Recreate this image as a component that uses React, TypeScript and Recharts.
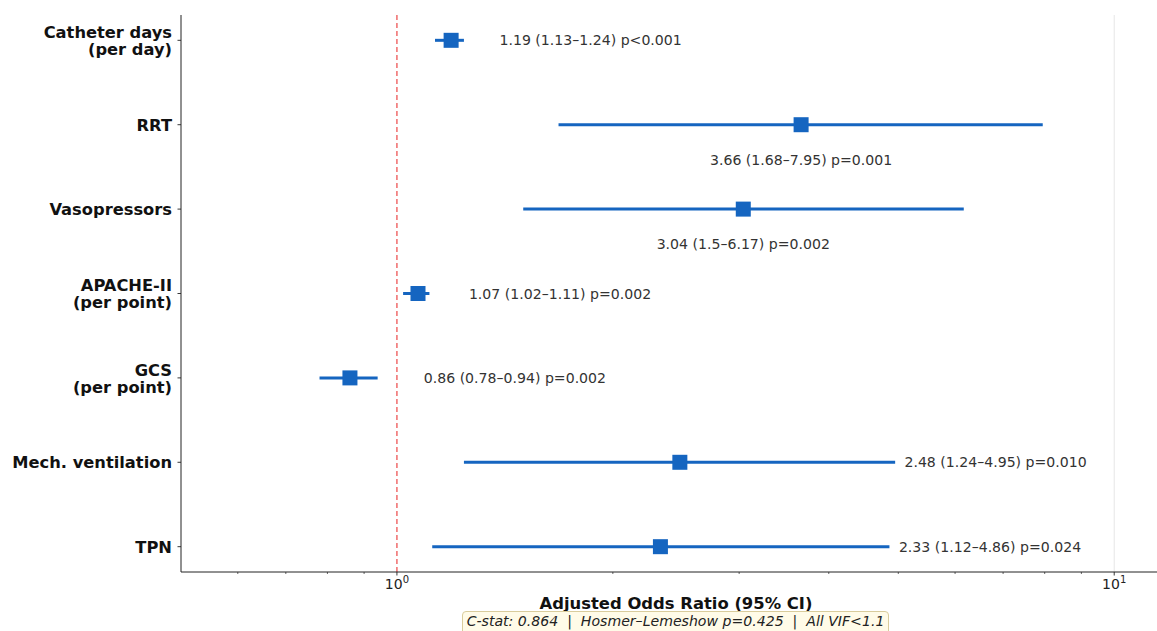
import React from "react";
import { ComposedChart, Scatter, ErrorBar, XAxis, YAxis, ReferenceLine } from "recharts";

// rows top to bottom
const labels = [
  "Catheter days\n(per day)",
  "RRT",
  "Vasopressors",
  "APACHE-II\n(per point)",
  "GCS\n(per point)",
  "Mech. ventilation",
  "TPN",
];
const oddsRatio = [1.19, 3.66, 3.04, 1.07, 0.86, 2.48, 2.33];
const ciLow = [1.13, 1.68, 1.5, 1.02, 0.78, 1.24, 1.12];
const ciHigh = [1.24, 7.95, 6.17, 1.11, 0.94, 4.95, 4.86];
const pValues = ["p<0.001", "p=0.001", "p=0.002", "p=0.002", "p=0.002", "p=0.010", "p=0.024"];
const xTicks = [0.6, 0.7, 0.8, 0.9, 1, 2, 3, 4, 5, 6, 7, 8, 9, 10];
const majorTicks = [1, 10];

const BLUE = "#1565C0";
const n = labels.length;

const points = labels.map((_, i) => ({
  x: oddsRatio[i],
  y: n - 1 - i,
  err: [oddsRatio[i] - ciLow[i], ciHigh[i] - oddsRatio[i]],
}));

// wide intervals get their text under the bar, the rest to the right of the CI
const textPoints = labels.map((_, i) => {
  const below = ciHigh[i] > 5.5;
  return {
    x: below ? oddsRatio[i] : ciHigh[i] + 0.15,
    y: n - 1 - i - (below ? 0.415 : 0),
    anchor: below ? "middle" : "start",
    text: `${oddsRatio[i]} (${ciLow[i]}–${ciHigh[i]}) ${pValues[i]}`,
  };
});

const XTick = (props: any) => {
  const { x, y, payload } = props;
  const major = majorTicks.includes(payload.value);
  return (
    <g>
      <line x1={x} x2={x} y1={y} y2={y + (major ? 3.5 : 2)} stroke="#222" strokeWidth={major ? 0.9 : 0.7} />
      {major && (
        <text x={x} y={y + 17} textAnchor="middle" fontSize={14} fill="#222">
          <tspan>10</tspan>
          <tspan dy={-6} fontSize={10}>
            {Math.round(Math.log10(payload.value))}
          </tspan>
        </text>
      )}
    </g>
  );
};

const YTick = (props: any) => {
  const { x, y, payload } = props;
  const lines = labels[n - 1 - payload.value].split("\n");
  const offs = lines.length === 2 ? [-8, 9] : [0];
  return (
    <g>
      <line x1={x - 3.5} x2={x} y1={y} y2={y} stroke="#222" strokeWidth={0.9} />
      <text x={x - 9} y={y} textAnchor="end" fontSize={16.3} fontWeight="bold" fill="#111">
        {lines.map((l, k) => (
          <tspan key={k} x={x - 9} y={y + offs[k]} dy="0.36em">
            {l}
          </tspan>
        ))}
      </text>
    </g>
  );
};

const Square = (props: any) => {
  const { cx, cy } = props;
  return <rect x={cx - 7.5} y={cy - 7.5} width={15} height={15} fill={BLUE} />;
};

const CiText = (props: any) => {
  const { cx, cy, payload } = props;
  return (
    <text x={cx} y={cy} dy="0.36em" textAnchor={payload.anchor} fontSize={14.1} fill="#333">
      {payload.text}
    </text>
  );
};

export default function App() {
  return (
    <div
      style={{
        position: "fixed",
        left: 0,
        top: 0,
        width: 1157,
        height: 631,
        overflow: "hidden",
        background: "#fff",
        fontFamily: "DejaVu Sans",
      }}
    >
      <ComposedChart
        width={1180}
        height={631}
        margin={{ top: 15, right: 9, bottom: 0, left: 0 }}
        style={{ fontFamily: "DejaVu Sans" }}
      >
        <XAxis
          type="number"
          dataKey="x"
          scale="log"
          domain={[0.5, 12]}
          allowDataOverflow
          ticks={xTicks}
          interval={0}
          tick={<XTick />}
          tickLine={false}
          tickSize={0}
          tickMargin={0}
          height={59}
          axisLine={{ stroke: "#222", strokeWidth: 1 }}
          label={{
            value: "Adjusted Odds Ratio (95% CI)",
            position: "insideBottom",
            offset: 22,
            style: { fontSize: 16.4, fontWeight: "bold", fill: "#111" },
          }}
        />
        <YAxis
          type="number"
          dataKey="y"
          domain={[-0.3, 6.3]}
          allowDataOverflow
          ticks={[0, 1, 2, 3, 4, 5, 6]}
          interval={0}
          tick={<YTick />}
          tickLine={false}
          tickSize={0}
          tickMargin={0}
          width={181}
          axisLine={{ stroke: "#222", strokeWidth: 1 }}
        />
        <ReferenceLine x={10} stroke="#e6e6e6" strokeWidth={1} />
        <ReferenceLine x={1} stroke="#ee5555" strokeWidth={1.3} strokeDasharray="5 3" />
        <Scatter data={points} shape={<Square />} isAnimationActive={false}>
          <ErrorBar dataKey="err" direction="x" width={0} stroke={BLUE} strokeWidth={3} isAnimationActive={false} />
        </Scatter>
        <Scatter data={textPoints} shape={<CiText />} isAnimationActive={false} />
      </ComposedChart>
      <div
        style={{
          position: "absolute",
          left: 462,
          top: 611,
          width: 427,
          height: 26,
          boxSizing: "border-box",
          border: "1px solid #d9cc9c",
          borderRadius: 4,
          background: "#fffbe8",
          fontSize: 14.1,
          fontStyle: "italic",
          color: "#222",
          whiteSpace: "pre",
          textAlign: "center",
          lineHeight: "19px",
        }}
      >
        {"C-stat: 0.864  |  Hosmer–Lemeshow p=0.425  |  All VIF<1.1"}
      </div>
    </div>
  );
}
